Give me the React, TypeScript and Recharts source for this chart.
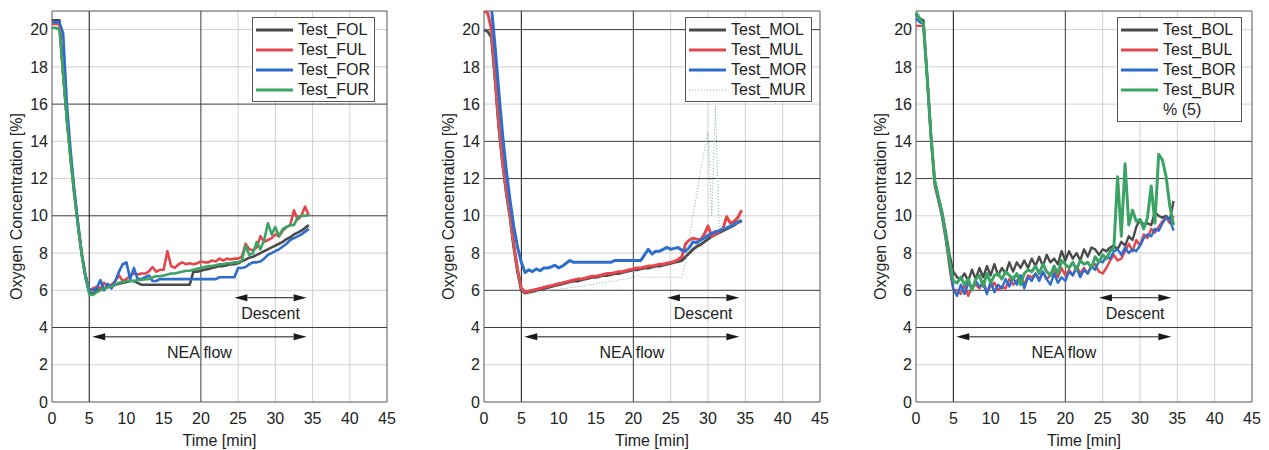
import React from 'react';
import {
  LineChart,
  Line,
  XAxis,
  YAxis,
  CartesianGrid,
  ReferenceLine,
  ReferenceArea,
  Legend,
} from 'recharts';

const FONT = '"Liberation Sans", Arial, Helvetica, sans-serif';

// time axis shared by all three tests [min]
const timeMin = [
  0, 0.5, 1, 1.5, 2, 2.5, 3, 3.5, 4, 4.5,
  5, 5.5, 6, 6.5, 7, 7.5, 8, 8.5, 9, 9.5,
  10, 10.5, 11, 11.5, 12, 12.5, 13, 13.5, 14, 14.5,
  15, 15.5, 16, 16.5, 17, 17.5, 18, 18.5, 19, 19.5,
  20, 20.5, 21, 21.5, 22, 22.5, 23, 23.5, 24, 24.5,
  25, 25.5, 26, 26.5, 27, 27.5, 28, 28.5, 29, 29.5,
  30, 30.5, 31, 31.5, 32, 32.5, 33, 33.5, 34, 34.5,
];

const xTicks = [0, 5, 10, 15, 20, 25, 30, 35, 40, 45];
const yTicks = [0, 2, 4, 6, 8, 10, 12, 14, 16, 18, 20];

// oxygen concentration [%], forward tank
const folValues = [
  20.5, 20.5, 20.5, 17.6, 15.2, 13.1, 11.2, 9.5, 7.9, 6.7,
  5.9, 5.8, 6.0, 6.05, 6.1, 6.2, 6.2, 6.3, 6.35, 6.4,
  6.45, 6.5, 6.5, 6.4, 6.3, 6.3, 6.3, 6.3, 6.3, 6.3,
  6.3, 6.3, 6.3, 6.3, 6.3, 6.3, 6.3, 6.3, 7.0, 7.0,
  7.05, 7.1, 7.15, 7.2, 7.25, 7.3, 7.3, 7.35, 7.4, 7.4,
  7.45, 7.55, 7.65, 7.75, 7.8, 7.9, 8.0, 8.1, 8.2, 8.3,
  8.4, 8.5, 8.6, 8.75, 8.85, 9.0, 9.1, 9.2, 9.35, 9.5,
];
const fulValues = [
  20.3, 20.3, 20.3, 17.6, 15.2, 13.1, 11.2, 9.5, 7.9, 6.8,
  6.0, 6.1, 6.2, 6.1, 6.4, 6.2, 6.3, 6.5, 6.8, 6.5,
  6.6, 6.8, 6.9, 6.85, 6.9, 6.9, 7.0, 7.25, 7.0, 7.1,
  7.1, 8.1, 7.3, 7.2, 7.4, 7.5, 7.4, 7.45, 7.4, 7.45,
  7.55, 7.5, 7.5, 7.6, 7.55, 7.7, 7.6, 7.7, 7.65, 7.7,
  7.7, 7.8, 8.5, 8.2, 8.15, 8.3, 8.9, 8.6, 8.7, 8.8,
  9.0, 8.9, 9.2, 9.4, 9.5, 10.3, 9.8, 10.0, 10.5, 10.0,
];
const forValues = [
  20.4, 20.4, 20.4, 19.8, 16.0, 13.5, 11.4, 9.6, 8.0, 6.8,
  6.0, 6.0, 6.1, 6.55, 6.0, 6.35, 6.1, 6.5, 7.0, 7.4,
  7.5, 6.6, 7.2, 6.6, 6.6, 6.7, 6.8, 6.5, 6.5, 6.6,
  6.6, 6.6, 6.6, 6.6, 6.6, 6.6, 6.6, 6.6, 6.6, 6.6,
  6.6, 6.6, 6.6, 6.6, 6.6, 6.7, 6.7, 6.7, 6.7, 6.7,
  7.2, 7.2, 7.25, 7.4, 7.5, 7.5, 7.55, 7.7, 7.9, 8.0,
  8.1, 8.2, 8.35, 8.5, 8.7, 8.8, 8.9, 9.0, 9.15, 9.3,
];
const furValues = [
  20.1, 20.1, 20.0, 17.6, 15.1, 13.0, 11.1, 9.4, 7.9, 6.7,
  5.8, 5.75, 5.9, 6.0, 6.1, 6.15, 6.2, 6.3, 6.4, 6.45,
  6.5, 6.5, 6.5, 6.55, 6.55, 6.6, 6.6, 6.7, 6.75, 6.75,
  6.8, 6.85, 6.9, 6.9, 6.95, 7.0, 7.05, 7.05, 7.1, 7.15,
  7.2, 7.25, 7.3, 7.3, 7.35, 7.4, 7.4, 7.45, 7.45, 7.5,
  7.5, 7.6, 8.4, 7.9, 8.0, 8.6, 8.2, 8.7, 9.6, 9.0,
  9.4, 8.9, 9.3, 9.4, 9.5, 9.5, 9.9, 10.0, 10.0, 10.05,
];

// middle tank
const molValues = [
  20.0, 19.9, 19.6, 17.3, 14.7, 12.8, 11.2, 9.9, 8.3, 7.0,
  6.0, 5.85, 5.9, 5.95, 6.0, 6.05, 6.1, 6.15, 6.2, 6.25,
  6.3, 6.35, 6.4, 6.45, 6.5, 6.5, 6.55, 6.6, 6.65, 6.7,
  6.7, 6.75, 6.8, 6.8, 6.85, 6.9, 6.9, 6.95, 7.0, 7.05,
  7.1, 7.1, 7.15, 7.2, 7.2, 7.25, 7.3, 7.3, 7.35, 7.4,
  7.45, 7.5, 7.55, 7.6, 7.8, 8.0, 8.2, 8.35, 8.45, 8.6,
  8.75, 8.9, 9.0, 9.1, 9.2, 9.3, 9.4, 9.5, 9.65, 9.75,
];
const mulValues = [
  21.0, 20.9, 20.0, 17.4, 14.8, 12.9, 11.3, 10.0, 8.4, 7.1,
  6.1, 5.9, 5.95, 6.0, 6.05, 6.1, 6.15, 6.2, 6.25, 6.3,
  6.35, 6.4, 6.45, 6.5, 6.55, 6.6, 6.6, 6.65, 6.7, 6.75,
  6.75, 6.8, 6.85, 6.9, 6.9, 6.95, 7.0, 7.0, 7.05, 7.1,
  7.15, 7.2, 7.2, 7.25, 7.3, 7.3, 7.35, 7.4, 7.4, 7.45,
  7.5, 7.55, 7.65, 7.8, 8.5, 8.7, 8.8, 8.75, 8.7, 9.0,
  9.45, 8.9, 9.05, 9.15, 9.3, 9.95, 9.6, 9.7, 9.9, 10.3,
];
const morValues = [
  21.5, 21.5, 21.2, 19.0, 16.6, 14.3, 12.4, 10.8, 9.4, 8.3,
  7.5, 6.95, 7.1, 7.0, 7.15, 7.05, 7.2, 7.2, 7.25, 7.35,
  7.2, 7.3, 7.45, 7.6, 7.5, 7.5, 7.5, 7.5, 7.5, 7.5,
  7.5, 7.5, 7.5, 7.5, 7.5, 7.6, 7.6, 7.6, 7.6, 7.6,
  7.6, 7.6, 7.6, 7.9, 8.2, 7.95, 8.1, 8.1, 8.2, 8.3,
  8.2, 8.25, 8.3, 8.15, 8.1, 8.3, 8.6, 8.55, 8.7, 8.8,
  8.95, 9.05, 9.15, 9.2, 9.3, 9.35, 9.45, 9.55, 9.65, 9.7,
];
const murValues = [
  20.0, 20.0, 19.7, 17.2, 14.6, 12.7, 11.1, 9.8, 8.2, 6.9,
  6.0, 5.8, 5.8, 5.85, 5.9, 5.9, 5.95, 6.0, 6.0, 6.05,
  6.05, 6.1, 6.1, 6.15, 6.15, 6.2, 6.2, 6.25, 6.3, 6.3,
  6.35, 6.4, 6.4, 6.45, 6.5, 6.5, 6.55, 6.6, 6.6, 6.65,
  6.7, 6.8, 6.7, 6.7, 6.7, 6.7, 6.7, 6.7, 6.7, 6.7,
  6.7, 6.7, 6.7, 6.7, 7.6, 8.8, 10.0, 11.2, 12.4, 13.5,
  14.5, 10.0, 15.9, 9.3, 9.3, 9.4, 9.5, 9.55, 9.65, 9.7,
];

// back tank
const bolValues = [
  20.8, 20.6, 20.5, 17.5, 14.4, 11.9, 11.0, 10.2, 9.1, 7.9,
  7.0, 6.7, 6.6, 6.9, 6.5, 7.1, 6.6, 7.2, 6.7, 7.3,
  6.8, 7.4, 6.8, 7.2, 6.9, 7.5, 7.0, 7.5, 7.2, 7.6,
  7.2, 7.7, 7.3, 7.8, 7.3, 7.9, 7.5, 7.7, 7.4, 8.1,
  7.6, 8.1, 7.7, 8.0, 7.6, 8.2, 7.8, 8.3, 8.2, 7.9,
  8.2, 8.1, 8.3, 8.4, 8.2, 8.6, 8.4, 8.9, 8.7, 9.4,
  9.8, 9.5, 9.6, 9.5, 10.2, 10.0, 9.9, 10.0, 9.8, 10.8,
];
const bulValues = [
  20.2, 20.2, 20.2, 17.3, 14.2, 11.6, 10.8, 9.9, 8.7, 7.2,
  6.0, 6.0, 5.8, 6.3, 5.7, 6.2, 6.3, 6.1, 6.5, 5.9,
  6.2, 6.4, 6.0, 6.2, 6.1, 6.6, 6.3, 6.5, 6.8, 6.3,
  6.8, 6.7, 6.9, 6.6, 7.0, 6.6, 6.8, 7.1, 6.7, 7.2,
  6.8, 7.1, 6.8, 7.3, 6.9, 7.2, 6.9, 7.3, 7.4, 7.0,
  6.9, 7.2, 7.6, 7.9, 7.6, 7.7, 8.1, 8.5, 8.1, 8.7,
  8.4, 9.0, 8.8, 9.3, 9.1, 9.4, 9.7, 9.9, 9.6, 10.0,
];
const borValues = [
  20.6, 20.4, 20.3, 17.4, 14.3, 11.8, 10.9, 10.0, 8.8, 7.4,
  6.1, 5.7, 6.3, 5.8, 6.4, 6.1, 6.5, 6.2, 6.4, 5.8,
  6.5, 5.9, 6.3, 6.1, 6.6, 6.2, 6.7, 6.3, 6.8, 6.1,
  6.7, 6.5, 6.9, 6.5, 7.0, 6.6, 6.3, 6.9, 6.4, 6.7,
  6.5, 7.0, 6.8, 7.2, 6.7, 7.1, 6.9, 7.3, 7.1, 7.6,
  7.5, 7.8, 7.7, 8.1, 8.2, 7.9, 8.3, 8.0, 8.2, 8.1,
  8.4, 8.8, 9.0, 8.9, 9.3, 9.2, 9.6, 9.9, 9.8, 9.2,
];
const burValues = [
  20.9, 20.6, 20.3, 17.4, 14.3, 11.9, 11.0, 10.1, 8.9, 7.6,
  6.5, 6.4, 6.7, 6.3, 6.6, 6.0, 6.6, 6.8, 6.2, 6.9,
  6.4, 6.8, 6.9, 6.6, 7.0, 6.8, 6.6, 6.9, 6.3, 6.9,
  7.1, 7.0, 7.3, 6.9, 7.4, 7.0, 6.8, 7.3, 6.9, 7.6,
  7.4, 7.2, 7.5, 7.1, 7.6, 7.4, 7.5, 7.2, 7.8, 7.5,
  7.9, 7.7, 8.1, 8.3, 12.1, 8.9, 12.8, 9.5, 10.3, 9.7,
  9.8, 9.3, 9.9, 11.6, 9.6, 13.3, 13.0, 12.1, 10.5, 9.5,
];

// annotation arrows (time span, level)
const descentSpan = [24.5, 34.2];
const descentLevel = 5.6;
const neaSpan = [5.4, 34.2];
const neaLevel = 3.5;

const BLACK = '#4a4a4a';
const RED = '#e4464b';
const BLUE = '#2d6dcd';
const GREEN = '#3ba464';

type Series = {
  key: string;
  values: number[];
  color: string;
  width: number;
  dash?: string;
};

type PanelCfg = {
  left: number;
  width: number;
  marginRight: number;
  legendLeft: number;
  legendWidth: number;
  hDark: number[];
  hLight: number[];
  series: Series[];
  extraLegend?: string;
};

const panels: PanelCfg[] = [
  {
    left: 0,
    width: 420,
    marginRight: 33,
    legendLeft: 252,
    legendWidth: 123,
    hDark: [4, 10, 16],
    hLight: [2, 6, 8, 12, 14, 18, 20],
    series: [
      { key: 'Test_FOL', values: folValues, color: BLACK, width: 2.6 },
      { key: 'Test_FUL', values: fulValues, color: RED, width: 2.6 },
      { key: 'Test_FOR', values: forValues, color: BLUE, width: 2.6 },
      { key: 'Test_FUR', values: furValues, color: GREEN, width: 2.6 },
    ],
  },
  {
    left: 432,
    width: 413,
    marginRight: 25,
    legendLeft: 253,
    legendWidth: 127,
    hDark: [4, 6, 12, 14, 20],
    hLight: [2, 8, 10, 16, 18],
    series: [
      { key: 'Test_MOL', values: molValues, color: BLACK, width: 3 },
      { key: 'Test_MUL', values: mulValues, color: RED, width: 3 },
      { key: 'Test_MOR', values: morValues, color: BLUE, width: 3 },
      { key: 'Test_MUR', values: murValues, color: '#7fb0aa', width: 1, dash: '1 2' },
    ],
  },
  {
    left: 864,
    width: 405,
    marginRight: 17,
    legendLeft: 253,
    legendWidth: 125,
    hDark: [4, 6, 12, 14],
    hLight: [2, 8, 10, 16, 18, 20],
    series: [
      { key: 'Test_BOL', values: bolValues, color: BLACK, width: 2.4 },
      { key: 'Test_BUL', values: bulValues, color: RED, width: 2.4 },
      { key: 'Test_BOR', values: borValues, color: BLUE, width: 2.4 },
      { key: 'Test_BUR', values: burValues, color: GREEN, width: 3 },
    ],
    extraLegend: '% (5)',
  },
];

const arrowShape = (props: any) => {
  const { x1, y1, x2 } = props;
  const L = 13;
  const H = 3.5;
  return (
    <g>
      <line x1={x1 + L} y1={y1} x2={x2 - L} y2={y1} stroke="#1a1a1a" strokeWidth={1} />
      <polygon points={`${x1},${y1} ${x1 + L},${y1 - H} ${x1 + L},${y1 + H}`} fill="#1a1a1a" />
      <polygon points={`${x2},${y1} ${x2 - L},${y1 - H} ${x2 - L},${y1 + H}`} fill="#1a1a1a" />
    </g>
  );
};

const renderYLabel = (props: any) => {
  const vb = props.viewBox || {};
  const x = (vb.x ?? 0) + 16;
  const y = (vb.y ?? 0) + (vb.height ?? 0) / 2;
  return (
    <text
      x={x}
      y={y}
      transform={`rotate(-90 ${x} ${y})`}
      textAnchor="middle"
      dominantBaseline="central"
      fill="#222"
      fontSize={16}
      fontFamily={FONT}
    >
      Oxygen Concentration [%]
    </text>
  );
};

function LegendBox({ cfg }: { cfg: PanelCfg }) {
  return (
    <div
      style={{
        border: '1px solid #555',
        background: '#fff',
        width: cfg.legendWidth,
        padding: '2px 0 1px',
        fontFamily: FONT,
        fontSize: 16,
        color: '#222',
        boxSizing: 'border-box',
      }}
    >
      {cfg.series.map((s) => (
        <div key={s.key} style={{ display: 'flex', alignItems: 'center', height: 20 }}>
          <svg width={42} height={20}>
            <line
              x1={3}
              x2={40}
              y1={10}
              y2={10}
              stroke={s.color}
              strokeWidth={s.dash ? 1 : 3}
              strokeDasharray={s.dash}
            />
          </svg>
          <span style={{ marginLeft: 3, lineHeight: '20px' }}>{s.key}</span>
        </div>
      ))}
      {cfg.extraLegend && (
        <div style={{ display: 'flex', alignItems: 'center', height: 20 }}>
          <span style={{ marginLeft: 45, lineHeight: '20px' }}>{cfg.extraLegend}</span>
        </div>
      )}
    </div>
  );
}

function Panel({ cfg }: { cfg: PanelCfg }) {
  const data = timeMin.map((t, i) => {
    const row: Record<string, number> = { t };
    cfg.series.forEach((s) => {
      row[s.key] = s.values[i];
    });
    return row;
  });

  const tickStyle = { fill: '#222', fontSize: 16, fontFamily: FONT };

  return (
    <div style={{ position: 'absolute', left: cfg.left, top: 0 }}>
      <LineChart
        width={cfg.width}
        height={450}
        data={data}
        margin={{ top: 11, right: cfg.marginRight, bottom: 0, left: 0 }}
      >
        <CartesianGrid horizontalValues={cfg.hLight} verticalValues={[25, 30, 35, 40]} stroke="#d2d2d2" />
        <CartesianGrid horizontalValues={cfg.hDark} verticalValues={[20]} stroke="#3a3a3a" />
        <CartesianGrid horizontal={false} verticalValues={[5]} stroke="#111" />
        <XAxis
          type="number"
          dataKey="t"
          domain={[0, 45]}
          ticks={xTicks}
          interval={0}
          height={48}
          tickLine={false}
          axisLine={false}
          tickSize={6}
          tickMargin={5}
          tick={tickStyle}
          label={{ value: 'Time [min]', position: 'insideBottom', offset: 4, fill: '#222', fontSize: 16, fontFamily: FONT }}
        />
        <YAxis
          type="number"
          domain={[0, 21]}
          ticks={yTicks}
          interval={0}
          allowDataOverflow
          width={52}
          tickLine={false}
          axisLine={false}
          tickSize={2}
          tickMargin={2}
          tick={tickStyle}
          label={{ content: renderYLabel }}
        />
        <ReferenceArea x1={0} x2={45} y1={0} y2={21} fill="none" stroke="#555" strokeWidth={1} />
        <ReferenceLine
          segment={[{ x: descentSpan[0], y: descentLevel }, { x: descentSpan[1], y: descentLevel }]}
          shape={arrowShape}
          label={{ value: 'Descent', position: 'bottom', offset: 10, fill: '#222', fontSize: 16, fontFamily: FONT }}
        />
        <ReferenceLine
          segment={[{ x: neaSpan[0], y: neaLevel }, { x: neaSpan[1], y: neaLevel }]}
          shape={arrowShape}
          label={{ value: 'NEA flow', position: 'bottom', offset: 10, fill: '#222', fontSize: 16, fontFamily: FONT }}
        />
        {cfg.series.map((s) => (
          <Line
            key={s.key}
            type="linear"
            dataKey={s.key}
            stroke={s.color}
            strokeWidth={s.width}
            strokeDasharray={s.dash}
            strokeLinejoin="round"
            dot={false}
            activeDot={false}
            isAnimationActive={false}
          />
        ))}
        <Legend
          layout="vertical"
          align="center"
          verticalAlign="middle"
          wrapperStyle={{ left: cfg.legendLeft, top: 17, width: cfg.legendWidth, height: 'auto' }}
          content={() => <LegendBox cfg={cfg} />}
        />
      </LineChart>
    </div>
  );
}

export default function App() {
  return (
    <div
      style={{
        position: 'absolute',
        left: 0,
        top: 0,
        width: 1269,
        height: 450,
        background: '#fff',
        fontFamily: FONT,
      }}
    >
      {panels.map((cfg, i) => (
        <Panel key={i} cfg={cfg} />
      ))}
    </div>
  );
}
